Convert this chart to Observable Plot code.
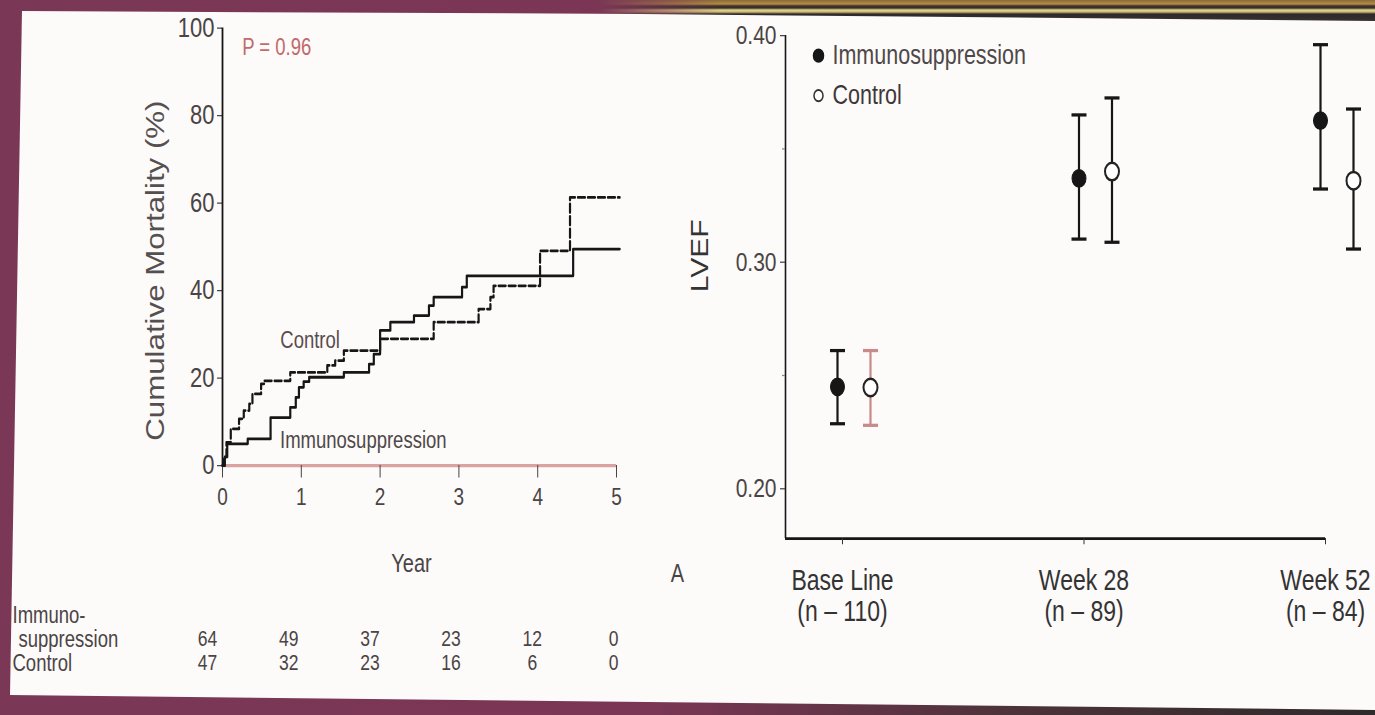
<!DOCTYPE html>
<html>
<head>
<meta charset="utf-8">
<script src="https://cdn.jsdelivr.net/npm/d3@7"></script>
<script src="https://cdn.jsdelivr.net/npm/@observablehq/plot@0.6"></script>
<style>
  html, body { margin: 0; padding: 0; width: 1375px; height: 715px; overflow: hidden;
    background: linear-gradient(to right, #7b3856 0%, #7a3654 48%, #4a3238 75%, #2f2a2c 100%); }
  #band { position: absolute; left: 600px; top: 0; width: 775px; height: 22px;
    background: linear-gradient(to bottom, #8a6a3a 0px, #b48c42 4px, #3c322c 6px, #3a302a 8px, #e6d690 10px, #c8b870 12px, #2e2828 14px, #3a3434 22px); }
  #bandfade { position: absolute; left: 600px; top: 0; width: 120px; height: 22px;
    background: linear-gradient(to right, #7b3856 0%, rgba(123,56,86,0) 100%); }
  #panel { position: absolute; left: 0; top: 0; width: 1375px; height: 715px; background: #fdfafa;
    clip-path: polygon(22px 11px, 640px 14px, 1375px 21px, 1375px 710px, 10px 695px); }
  #stage { position: absolute; left: 0; top: 0; width: 1375px; height: 572px;
    transform: scaleY(1.25); transform-origin: 0 0; }
  #stage svg { position: absolute; overflow: visible; }
</style>
</head>
<body>
<div id="band"></div>
<div id="bandfade"></div>
<div id="panel"></div>
<div id="stage"></div>
<script>
// ---------- Data ----------
// Panel A: Kaplan–Meier cumulative mortality (%) by year
const immunoYears = [0, 0.03, 0.06, 0.32, 0.61, 0.86, 0.93, 0.97, 1.03, 1.10, 1.54, 1.86, 1.92, 2.00, 2.13, 2.43, 2.62, 2.68, 3.04, 3.10, 4.45, 5.04];
const immunoPct   = [0, 2.0, 5.0, 6.1, 11.0, 13.3, 15.6, 17.9, 19.2, 20.2, 21.3, 23.2, 25.5, 30.9, 32.8, 34.3, 36.6, 38.5, 40.8, 43.4, 49.5, 49.5];
const controlYears = [0, 0.02, 0.05, 0.105, 0.21, 0.27, 0.34, 0.38, 0.49, 0.53, 0.86, 1.33, 1.43, 1.54, 2.00, 2.68, 3.25, 3.40, 3.44, 4.03, 4.41, 5.04];
const controlPct   = [0, 2.0, 5.3, 8.4, 10.7, 12.6, 14.1, 16.4, 18.7, 19.4, 21.3, 22.9, 24.0, 26.3, 29.0, 32.8, 35.8, 38.5, 41.1, 49.1, 61.3, 61.3];
const yearTicks = [0, 1, 2, 3, 4, 5];
const mortalityTicks = [0, 20, 40, 60, 80, 100];
const pValueText = "P = 0.96";

// Numbers at risk
const riskRows = ["Immunosuppression", "Control"];
const riskRowLabels = ["Immuno-", "suppression", "Control"];
const riskImmuno  = [64, 49, 37, 23, 12, 0];
const riskControl = [47, 32, 23, 16, 6, 0];

// Panel B: LVEF
const timepoints = ["Base Line", "Week 28", "Week 52"];
const timepointN = ["(n – 110)", "(n – 89)", "(n – 84)"];
const groups = ["Immunosuppression", "Control"];
const lvefMeanImmuno  = [0.2450, 0.3370, 0.3625];
const lvefLowImmuno   = [0.2287, 0.3102, 0.3323];
const lvefHighImmuno  = [0.2610, 0.3650, 0.3960];
const lvefMeanControl = [0.2447, 0.3400, 0.3360];
const lvefLowControl  = [0.2280, 0.3088, 0.3058];
const lvefHighControl = [0.2610, 0.3725, 0.3676];
const lvefTicks = [0.20, 0.30, 0.40];
const lvefMinorTicks = [0.25, 0.35];

// ---------- Build ----------
const S = 1.25; // vertical stretch of the scanned slide
const FONT = "'Liberation Sans', Arial, Helvetica, sans-serif";
const ink = "#161616";
const textGray = "#4a4444";
const stage = document.getElementById("stage");
function place(svg, left, top) {
  svg.style.left = left + "px";
  svg.style.top = top + "px";
  stage.appendChild(svg);
}

// Panel A
const km = [
  ...immunoYears.map((t, i) => ({group: groups[0], t, v: immunoPct[i]})),
  ...controlYears.map((t, i) => ({group: groups[1], t, v: controlPct[i]}))
];
const leftPlot = Plot.plot({
  width: 690, height: 600 / S,
  marginLeft: 222, marginRight: 74, marginTop: 27.5 / S, marginBottom: (600 - 465) / S,
  x: {domain: [0, 5]},
  y: {domain: [0, 100]},
  style: {background: "transparent", fontFamily: FONT, overflow: "visible"},
  marks: [
    Plot.ruleY([0], {stroke: "#dba2a2", strokeWidth: 2.5}),
    Plot.axisX({ticks: yearTicks, tickFormat: d => String(d), tickSize: 10, tickPadding: 8, fontSize: 19, color: textGray, label: null}),
    Plot.axisY({ticks: mortalityTicks, tickFormat: d => String(d), tickSize: 5, tickPadding: 3, fontSize: 22, color: textGray, label: null}),
    Plot.ruleX([0], {y1: 0, y2: 100, stroke: ink, strokeWidth: 1.8}),
    Plot.line(km.filter(d => d.group === groups[1]), {x: "t", y: "v", curve: "step-after", stroke: ink, strokeWidth: 2.2, strokeDasharray: "7,3"}),
    Plot.line(km.filter(d => d.group === groups[0]), {x: "t", y: "v", curve: "step-after", stroke: ink, strokeWidth: 2.2}),
    Plot.text([pValueText], {x: 0.25, y: 95.6, textAnchor: "start", fontSize: 18.5, fill: "#c26a6a"}),
    Plot.text([groups[1]], {x: 1.49, y: 28.6, textAnchor: "end", fontSize: 18.5, fill: "#5a4c4c"}),
    Plot.text([groups[0]], {x: 0.73, y: 5.7, textAnchor: "start", fontSize: 18.5, fill: "#4e4848"}),
    Plot.text(["Cumulative Mortality (%)"], {frameAnchor: "left", textAnchor: "middle", dx: -67, dy: 19, rotate: -90, fontSize: 25, fill: "#555050"}),
    Plot.text(["Year"], {frameAnchor: "bottom", textAnchor: "middle", dx: -8, dy: 85, fontSize: 20, fill: textGray}),
    Plot.text(["A"], {frameAnchor: "bottom-right", textAnchor: "middle", dx: 61, dy: 93, fontSize: 20, fill: textGray})
  ]
});
place(leftPlot, 0, 0);

// Numbers-at-risk table
const risk = [
  ...riskImmuno.map((n, i) => ({row: riskRows[0], t: yearTicks[i], n})),
  ...riskControl.map((n, i) => ({row: riskRows[1], t: yearTicks[i], n}))
];
const tableFont = 17.5;
const tablePlot = Plot.plot({
  width: 690, height: 95 / S,
  marginLeft: 12, marginRight: 0, marginTop: 0, marginBottom: 0,
  x: {domain: [0, 5], range: [207, 613], axis: null},
  y: {type: "point", domain: riskRows, range: [39 / S, 63 / S], padding: 0, axis: null},
  style: {background: "transparent", fontFamily: FONT, overflow: "visible"},
  marks: [
    Plot.text(risk, {x: "t", y: "row", text: d => String(d.n), fontSize: tableFont, fill: textGray}),
    Plot.text([riskRowLabels[0]], {y: () => riskRows[0], frameAnchor: "left", textAnchor: "start", dy: -24 / S, fontSize: tableFont + 1, fill: textGray}),
    Plot.text([riskRowLabels[1]], {y: () => riskRows[0], frameAnchor: "left", textAnchor: "start", dx: 6, fontSize: tableFont + 1, fill: textGray}),
    Plot.text([riskRowLabels[2]], {y: () => riskRows[1], frameAnchor: "left", textAnchor: "start", fontSize: tableFont + 1, fill: textGray})
  ]
});
place(tablePlot, 0, 600 / S);

// Panel B
const lvefImmuno = timepoints.map((tp, i) => ({tp, i, group: groups[0], mean: lvefMeanImmuno[i], lo: lvefLowImmuno[i], hi: lvefHighImmuno[i]}));
const lvefControl = timepoints.map((tp, i) => ({tp, i, group: groups[1], mean: lvefMeanControl[i], lo: lvefLowControl[i], hi: lvefHighControl[i]}));
const cap = {draw(context, size) { const r = Math.sqrt(size / Math.PI); context.moveTo(-r, 0); context.lineTo(r, 0); }};
const xMin = -0.236, yMin = 0.178;
const pink = "#c98a8a";
const barColor = d => (d.group === groups[1] && d.i === 0) ? pink : ink;
const dxI = -5, dxC = 28;

const rightPlot = Plot.plot({
  width: 695, height: 640 / S,
  marginLeft: 105, marginRight: 50, marginTop: 35 / S, marginBottom: (640 - 538) / S,
  x: {domain: [xMin, 2]},
  y: {domain: [yMin, 0.40]},
  style: {background: "transparent", fontFamily: FONT, overflow: "visible"},
  marks: [
    Plot.ruleY([yMin], {x1: xMin, x2: 2, stroke: ink, strokeWidth: 2.2}),
    Plot.ruleX([xMin], {y1: yMin, y2: 0.40, stroke: ink, strokeWidth: 1.6}),
    Plot.axisY({ticks: lvefTicks, tickFormat: ".2f", tickSize: 5, tickPadding: 4, fontSize: 21, color: textGray, label: null}),
    Plot.axisY({ticks: lvefMinorTicks, tickSize: 3, tickFormat: () => "", color: "#888", label: null}),
    Plot.axisX({ticks: [0, 1, 2], tickFormat: i => timepoints[i] + "\n" + timepointN[i], tickSize: 5, tickPadding: 18, fontSize: 23, lineHeight: 1.1, color: "#333", label: null}),
    Plot.text(["LVEF"], {frameAnchor: "left", textAnchor: "middle", dx: -85, dy: -25, rotate: -90, fontSize: 24, fill: "#333"}),
    // error bars
    Plot.ruleX(lvefImmuno, {x: "i", y1: "lo", y2: "hi", dx: dxI, stroke: barColor, strokeWidth: 2.2}),
    Plot.ruleX(lvefControl, {x: "i", y1: "lo", y2: "hi", dx: dxC, stroke: barColor, strokeWidth: 2.2}),
    Plot.dot(lvefImmuno, {x: "i", y: "lo", dx: dxI, symbol: cap, r: 7.5, stroke: barColor, strokeWidth: 2.6}),
    Plot.dot(lvefImmuno, {x: "i", y: "hi", dx: dxI, symbol: cap, r: 7.5, stroke: barColor, strokeWidth: 2.6}),
    Plot.dot(lvefControl, {x: "i", y: "lo", dx: dxC, symbol: cap, r: 7.5, stroke: barColor, strokeWidth: 2.6}),
    Plot.dot(lvefControl, {x: "i", y: "hi", dx: dxC, symbol: cap, r: 7.5, stroke: barColor, strokeWidth: 2.6}),
    // means
    Plot.dot(lvefImmuno, {x: "i", y: "mean", dx: dxI, r: 7, fill: ink, stroke: ink, strokeWidth: 1}),
    Plot.dot(lvefControl, {x: "i", y: "mean", dx: dxC, r: 7, fill: "#fff", stroke: "#222", strokeWidth: 2}),
    // legend
    Plot.dot([groups[0]], {frameAnchor: "top-left", dx: 33, dy: 16, r: 5, fill: ink, stroke: ink}),
    Plot.dot([groups[1]], {frameAnchor: "top-left", dx: 33, dy: 48, r: 4.5, fill: "#fff", stroke: "#333", strokeWidth: 1.5}),
    Plot.text([groups[0]], {frameAnchor: "top-left", dx: 47, dy: 16, textAnchor: "start", lineAnchor: "middle", fontSize: 21.5, fill: "#4e4848"}),
    Plot.text([groups[1]], {frameAnchor: "top-left", dx: 47, dy: 48, textAnchor: "start", lineAnchor: "middle", fontSize: 21.5, fill: "#3e3838"})
  ]
});
place(rightPlot, 680, 0);
</script>
</body>
</html>
